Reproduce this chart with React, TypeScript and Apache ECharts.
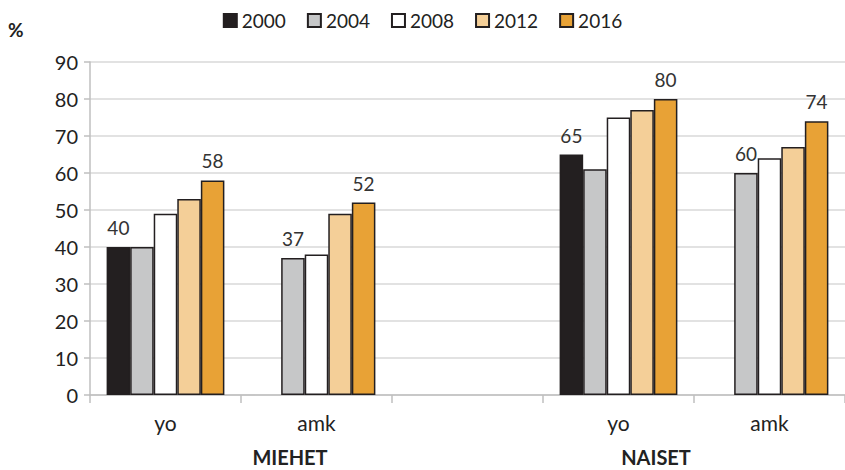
import React, { useEffect, useRef } from "react";
import * as echarts from "echarts";

const categories = ["yo", "amk", "", "yo", "amk"];
const groupNames = ["MIEHET", "NAISET"];
const years = ["2000", "2004", "2008", "2012", "2016"];
const v2000 = [40, null, null, 65, null];
const v2004 = [40, 37, null, 61, 60];
const v2008 = [49, 38, null, 75, 64];
const v2012 = [53, 49, null, 77, 67];
const v2016 = [58, 52, null, 80, 74];
const yTicks = [0, 10, 20, 30, 40, 50, 60, 70, 80, 90];

const colors = ["#231f20", "#c6c7c8", "#ffffff", "#f4cf98", "#e8a236"];
const FONT = "Lato";

export default function App() {
  const ref = useRef<HTMLDivElement>(null);
  useEffect(() => {
    if (!ref.current) return;
    const chart = echarts.init(ref.current, undefined, { renderer: "svg" });
    const all = [v2000, v2004, v2008, v2012, v2016];
    // label the first non-empty bar and the last bar in each category
    const firstIdx = categories.map((_, ci) => all.findIndex((s) => s[ci] != null));
    const lastIdx = all.length - 1;
    const series = all.map((vals, si) => ({
      name: years[si],
      type: "bar",
      barGap: "0%",
      barCategoryGap: "22%",
      itemStyle: { color: colors[si], borderColor: "#231f20", borderWidth: 1.5 },
      data: vals.map((v, ci) => ({
        value: v,
        label: {
          show: v != null && (si === firstIdx[ci] || si === lastIdx),
          position: "top",
          distance: 10,
          color: "#333333",
          fontSize: 19,
          fontFamily: FONT,
        },
      })),
    }));
    const groupText = (name: string, x: number) => ({
      type: "text",
      x,
      y: 457,
      style: {
        text: name,
        fontSize: 20,
        fontWeight: "bold",
        fill: "#222222",
        fontFamily: FONT,
        align: "center",
        verticalAlign: "middle",
      },
    });
    chart.setOption({
      animation: false,
      textStyle: { fontFamily: FONT },
      legend: {
        top: 6,
        left: "center",
        itemWidth: 13,
        itemHeight: 13,
        itemGap: 21,
        icon: "rect",
        textStyle: { fontSize: 19, color: "#222222", fontFamily: FONT, padding: [0, 0, 0, 0] },
        data: years,
      },
      grid: { left: 90, top: 62, width: 765, height: 333, containLabel: false },
      xAxis: {
        type: "category",
        data: categories,
        axisLine: { lineStyle: { color: "#bfbfbf", width: 1.5 } },
        axisTick: { show: true, length: 8, lineStyle: { color: "#bfbfbf", width: 1.5 } },
        axisLabel: { margin: 17, fontSize: 21, color: "#222222", fontFamily: FONT },
      },
      yAxis: {
        type: "value",
        min: yTicks[0],
        max: yTicks[yTicks.length - 1],
        interval: 10,
        axisLine: { show: true, lineStyle: { color: "#bfbfbf", width: 1.5 } },
        axisTick: { show: true, length: 6, lineStyle: { color: "#bfbfbf", width: 1.5 } },
        axisLabel: { margin: 12, fontSize: 20, color: "#222222", fontFamily: FONT },
        splitLine: { lineStyle: { color: "#d9d9d9", width: 1.5 } },
      },
      graphic: [
        {
          type: "text",
          left: 8,
          top: 20,
          style: { text: "%", fontSize: 19, fontWeight: "bold", fill: "#222222", fontFamily: FONT },
        },
        groupText(groupNames[0], 290),
        groupText(groupNames[1], 656),
      ],
      series,
    });
    return () => chart.dispose();
  }, []);
  return (
    <div
      ref={ref}
      style={{ position: "fixed", left: 0, top: 0, width: 845, height: 470, background: "#ffffff" }}
    />
  );
}
